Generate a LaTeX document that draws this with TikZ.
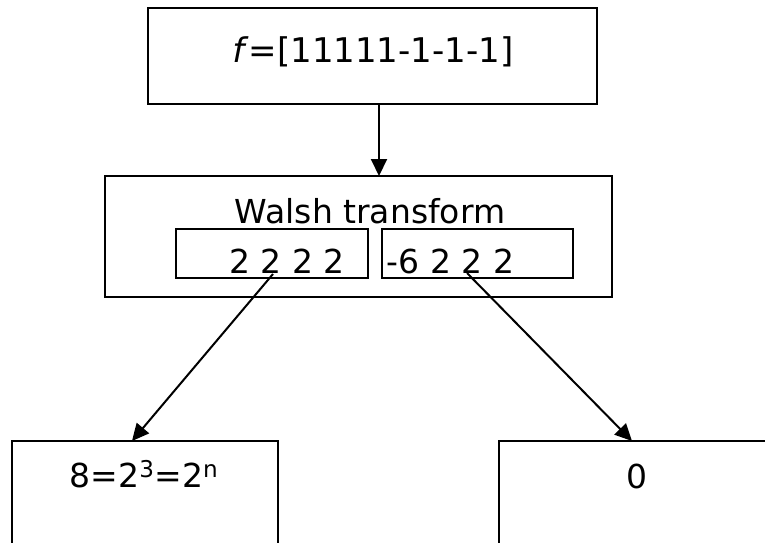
\documentclass[tikz,border=0pt]{standalone}
\usepackage{fontspec}
\setmainfont{DejaVu Sans}
\usetikzlibrary{arrows.meta}
\begin{document}
\begin{tikzpicture}[x=1pt,y=-1pt,
  box/.style={draw,line width=2.4pt,rectangle,inner sep=0pt},
  lbl/.style={anchor=base,inner sep=0pt,font=\fontsize{33}{36}\selectfont},
  arr/.style={line width=2pt,-{Triangle[length=17pt,width=16pt]}}]
\useasboundingbox (0,0) rectangle (765,542);
\node[box,minimum width=449pt,minimum height=96pt] (top) at (372.5,56) {};
\node[box,minimum width=507pt,minimum height=121pt] (walsh) at (358.5,236.5) {};
\node[box,minimum width=192pt,minimum height=49pt] (in1) at (272,253.5) {};
\node[box,minimum width=191pt,minimum height=49pt] (in2) at (477.5,253.5) {};
\node[box,minimum width=266pt,minimum height=130pt] (bl) at (145,506) {};
\node[box,minimum width=281pt,minimum height=130pt] (br) at (639.5,506) {};
\node[lbl,font=\fontsize{34}{36}\selectfont] (ttop) at (373,62) {\textit{f}=[11111-1-1-1]};
\node[lbl] (twalsh) at (370,223) {Walsh transform};
\node[lbl] (t1) at (287,273) {2 2 2 2};
\node[lbl] (t2) at (450.5,273) {-6 2 2 2};
\node[lbl] (t3) at (144,487) {8=2\textsuperscript{3}=2\textsuperscript{n}};
\node[lbl] (t4) at (637,488) {0};
\coordinate (s1) at (273,274);
\coordinate (e1) at (132,441);
\coordinate (s2) at (467,273);
\coordinate (e2) at (632,441);
\coordinate (a0) at (379,104);
\coordinate (a1) at (379,176);
\draw[arr] (a0) -- (a1);
\draw[arr] (s1) -- (e1);
\draw[arr] (s2) -- (e2);
\end{tikzpicture}
\end{document}
